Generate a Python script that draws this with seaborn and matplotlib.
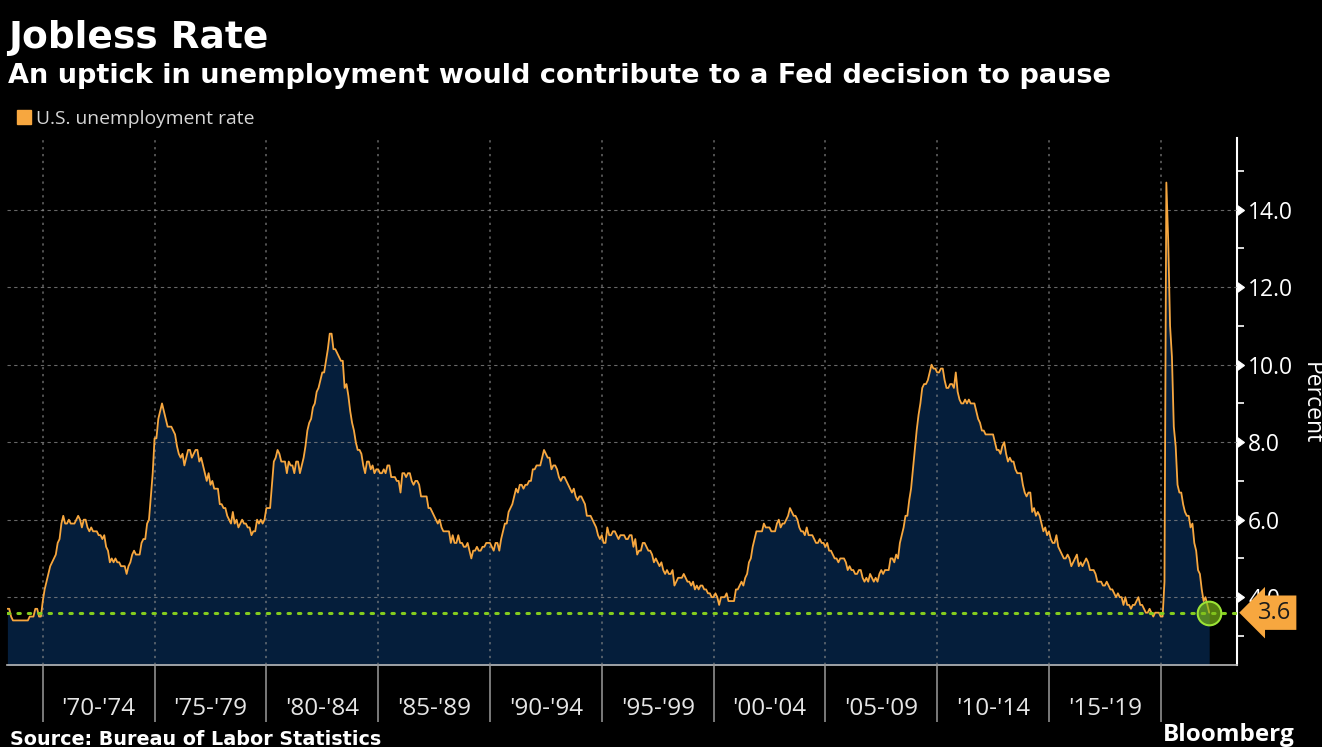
import numpy as np
import pandas as pd
import matplotlib
matplotlib.use("Agg")
import matplotlib.pyplot as plt
import matplotlib.markers as mmarkers
import matplotlib.transforms as mtransforms
from matplotlib.patches import Patch
import seaborn as sns

# U.S. unemployment rate, monthly, seasonally adjusted (BLS), Jun 1968 - Mar 2022
rate_1968_69 = [3.7, 3.7, 3.5, 3.4, 3.4, 3.4, 3.4,
                3.4, 3.4, 3.4, 3.4, 3.4, 3.5, 3.5, 3.5, 3.7, 3.7, 3.5, 3.5]
rate_1970s = [3.9, 4.2, 4.4, 4.6, 4.8, 4.9, 5.0, 5.1, 5.4, 5.5, 5.9, 6.1,
              5.9, 5.9, 6.0, 5.9, 5.9, 5.9, 6.0, 6.1, 6.0, 5.8, 6.0, 6.0,
              5.8, 5.7, 5.8, 5.7, 5.7, 5.7, 5.6, 5.6, 5.5, 5.6, 5.3, 5.2,
              4.9, 5.0, 4.9, 5.0, 4.9, 4.9, 4.8, 4.8, 4.8, 4.6, 4.8, 4.9,
              5.1, 5.2, 5.1, 5.1, 5.1, 5.4, 5.5, 5.5, 5.9, 6.0, 6.6, 7.2,
              8.1, 8.1, 8.6, 8.8, 9.0, 8.8, 8.6, 8.4, 8.4, 8.4, 8.3, 8.2,
              7.9, 7.7, 7.6, 7.7, 7.4, 7.6, 7.8, 7.8, 7.6, 7.7, 7.8, 7.8,
              7.5, 7.6, 7.4, 7.2, 7.0, 7.2, 6.9, 7.0, 6.8, 6.8, 6.8, 6.4,
              6.4, 6.3, 6.3, 6.1, 6.0, 5.9, 6.2, 5.9, 6.0, 5.8, 5.9, 6.0,
              5.9, 5.9, 5.8, 5.8, 5.6, 5.7, 5.7, 6.0, 5.9, 6.0, 5.9, 6.0]
rate_1980s = [6.3, 6.3, 6.3, 6.9, 7.5, 7.6, 7.8, 7.7, 7.5, 7.5, 7.5, 7.2,
              7.5, 7.4, 7.4, 7.2, 7.5, 7.5, 7.2, 7.4, 7.6, 7.9, 8.3, 8.5,
              8.6, 8.9, 9.0, 9.3, 9.4, 9.6, 9.8, 9.8, 10.1, 10.4, 10.8, 10.8,
              10.4, 10.4, 10.3, 10.2, 10.1, 10.1, 9.4, 9.5, 9.2, 8.8, 8.5, 8.3,
              8.0, 7.8, 7.8, 7.7, 7.4, 7.2, 7.5, 7.5, 7.3, 7.4, 7.2, 7.3,
              7.3, 7.2, 7.2, 7.3, 7.2, 7.4, 7.4, 7.1, 7.1, 7.1, 7.0, 7.0,
              6.7, 7.2, 7.2, 7.1, 7.2, 7.2, 7.0, 6.9, 7.0, 7.0, 6.9, 6.6,
              6.6, 6.6, 6.6, 6.3, 6.3, 6.2, 6.1, 6.0, 5.9, 6.0, 5.8, 5.7,
              5.7, 5.7, 5.7, 5.4, 5.6, 5.4, 5.4, 5.6, 5.4, 5.4, 5.3, 5.3,
              5.4, 5.2, 5.0, 5.2, 5.2, 5.3, 5.2, 5.2, 5.3, 5.3, 5.4, 5.4]
rate_1990s = [5.4, 5.3, 5.2, 5.4, 5.4, 5.2, 5.5, 5.7, 5.9, 5.9, 6.2, 6.3,
              6.4, 6.6, 6.8, 6.7, 6.9, 6.9, 6.8, 6.9, 6.9, 7.0, 7.0, 7.3,
              7.3, 7.4, 7.4, 7.4, 7.6, 7.8, 7.7, 7.6, 7.6, 7.3, 7.4, 7.4,
              7.3, 7.1, 7.0, 7.1, 7.1, 7.0, 6.9, 6.8, 6.7, 6.8, 6.6, 6.5,
              6.6, 6.6, 6.5, 6.4, 6.1, 6.1, 6.1, 6.0, 5.9, 5.8, 5.6, 5.5,
              5.6, 5.4, 5.4, 5.8, 5.6, 5.6, 5.7, 5.7, 5.6, 5.5, 5.6, 5.6,
              5.6, 5.5, 5.5, 5.6, 5.6, 5.3, 5.5, 5.1, 5.2, 5.2, 5.4, 5.4,
              5.3, 5.2, 5.2, 5.1, 4.9, 5.0, 4.9, 4.8, 4.9, 4.7, 4.6, 4.7,
              4.6, 4.6, 4.7, 4.3, 4.4, 4.5, 4.5, 4.5, 4.6, 4.5, 4.4, 4.4,
              4.3, 4.4, 4.2, 4.3, 4.2, 4.3, 4.3, 4.2, 4.2, 4.1, 4.1, 4.0]
rate_2000s = [4.0, 4.1, 4.0, 3.8, 4.0, 4.0, 4.0, 4.1, 3.9, 3.9, 3.9, 3.9,
              4.2, 4.2, 4.3, 4.4, 4.3, 4.5, 4.6, 4.9, 5.0, 5.3, 5.5, 5.7,
              5.7, 5.7, 5.7, 5.9, 5.8, 5.8, 5.8, 5.7, 5.7, 5.7, 5.9, 6.0,
              5.8, 5.9, 5.9, 6.0, 6.1, 6.3, 6.2, 6.1, 6.1, 6.0, 5.8, 5.7,
              5.7, 5.6, 5.8, 5.6, 5.6, 5.6, 5.5, 5.4, 5.4, 5.5, 5.4, 5.4,
              5.3, 5.4, 5.2, 5.2, 5.1, 5.0, 5.0, 4.9, 5.0, 5.0, 5.0, 4.9,
              4.7, 4.8, 4.7, 4.7, 4.6, 4.6, 4.7, 4.7, 4.5, 4.4, 4.5, 4.4,
              4.6, 4.5, 4.4, 4.5, 4.4, 4.6, 4.7, 4.6, 4.7, 4.7, 4.7, 5.0,
              5.0, 4.9, 5.1, 5.0, 5.4, 5.6, 5.8, 6.1, 6.1, 6.5, 6.8, 7.3,
              7.8, 8.3, 8.7, 9.0, 9.4, 9.5, 9.5, 9.6, 9.8, 10.0, 9.9, 9.9]
rate_2010s = [9.8, 9.8, 9.9, 9.9, 9.6, 9.4, 9.4, 9.5, 9.5, 9.4, 9.8, 9.3,
              9.1, 9.0, 9.0, 9.1, 9.0, 9.1, 9.0, 9.0, 9.0, 8.8, 8.6, 8.5,
              8.3, 8.3, 8.2, 8.2, 8.2, 8.2, 8.2, 8.0, 7.8, 7.8, 7.7, 7.9,
              8.0, 7.7, 7.5, 7.6, 7.5, 7.5, 7.3, 7.2, 7.2, 7.2, 6.9, 6.7,
              6.6, 6.7, 6.7, 6.2, 6.3, 6.1, 6.2, 6.1, 5.9, 5.7, 5.8, 5.6,
              5.7, 5.5, 5.4, 5.4, 5.6, 5.3, 5.2, 5.1, 5.0, 5.0, 5.1, 5.0,
              4.8, 4.9, 5.0, 5.1, 4.8, 4.9, 4.8, 4.9, 5.0, 4.9, 4.7, 4.7,
              4.7, 4.6, 4.4, 4.4, 4.4, 4.3, 4.3, 4.4, 4.3, 4.2, 4.2, 4.1,
              4.0, 4.1, 4.0, 4.0, 3.8, 4.0, 3.8, 3.8, 3.7, 3.8, 3.8, 3.9,
              4.0, 3.8, 3.8, 3.7, 3.6, 3.6, 3.7, 3.6, 3.5, 3.6, 3.6, 3.6]
rate_2020s = [3.5, 3.5, 4.4, 14.7, 13.2, 11.0, 10.2, 8.4, 7.9, 6.9, 6.7, 6.7,
              6.4, 6.2, 6.1, 6.1, 5.8, 5.9, 5.4, 5.2, 4.7, 4.6, 4.2, 3.9,
              4.0, 3.8, 3.6]

period_labels = ["'70-'74", "'75-'79", "'80-'84", "'85-'89", "'90-'94",
                 "'95-'99", "'00-'04", "'05-'09", "'10-'14", "'15-'19"]
period_starts = [1970, 1975, 1980, 1985, 1990, 1995, 2000, 2005, 2010, 2015, 2020]

rate = rate_1968_69 + rate_1970s + rate_1980s + rate_1990s + rate_2000s + rate_2010s + rate_2020s
dates = pd.date_range("1968-06-01", periods=len(rate), freq="MS")
df = pd.DataFrame({"date": dates, "rate": rate})
df["year"] = df["date"].dt.year + (df["date"].dt.month - 1) / 12
last = df.iloc[-1]

orange = "#F7A73F"
navy = "#051E3B"
green = "#84CC1E"

sns.set_style("dark", {"axes.facecolor": "black", "figure.facecolor": "black"})
plt.rcParams["font.family"] = ["Open Sans", "DejaVu Sans"]

fig = plt.figure(figsize=(13.22, 7.47), dpi=100, facecolor="black")
ax = fig.add_axes([7 / 1322, 1 - 665 / 747, (1237 - 7) / 1322, (665 - 138) / 747])
ax.set_facecolor("black")

ax.fill_between(df["year"], df["rate"], 0, color=navy, lw=0, zorder=1)
sns.lineplot(data=df, x="year", y="rate", ax=ax, color=orange, lw=1.3, zorder=3)

# latest value marker
ax.axhline(last["rate"], color=green, ls=(0, (0.8, 2.6)), lw=2.2,
           dash_capstyle="round", zorder=4)
ax.scatter([last["year"]], [last["rate"]], s=290, facecolor=(0.50, 0.75, 0.10, 0.65),
           edgecolor="#9BE335", lw=1.5, zorder=5)

ax.set_xlim(1968.40, 2023.41)
ax.set_ylim(2.25, 15.85)

# axes / spines
for s in ["left", "top"]:
    ax.spines[s].set_visible(False)
ax.spines["right"].set_color("white")
ax.spines["right"].set_linewidth(1.5)
ax.spines["bottom"].set_color("#b8b8b8")
ax.spines["bottom"].set_linewidth(1.2)

ax.yaxis.tick_right()
ax.set_yticks(np.arange(4, 15, 2))
ax.set_yticks(np.arange(3, 16, 2), minor=True)
ax.set_yticklabels([f"{v:.1f}" for v in np.arange(4, 15, 2)])
ax.tick_params(axis="y", which="major", colors="white", labelsize=16.5, pad=8,
               length=0, left=False, right=True)
ax.tick_params(axis="y", which="minor", colors="white", length=5, width=1.2,
               direction="out", left=False, right=True)
for t in ax.yaxis.get_major_ticks():
    t.tick2line.set_marker(mmarkers.CARETRIGHTBASE)
    t.tick2line.set_markersize(7)
    t.tick2line.set_color("white")

ax.set_xticks(period_starts)
ax.set_xticks([s + 2.5 for s in period_starts[:-1]], minor=True)
ax.set_xticklabels([])
ax.set_xticklabels(period_labels, minor=True)
ax.tick_params(axis="x", which="major", length=41, width=1.1, color="#9a9a9a",
               direction="out", bottom=True)
ax.tick_params(axis="x", which="minor", length=0, pad=23, labelsize=17.5,
               labelcolor="#e6e6e6", bottom=True)

ax.set_xlabel("")
ax.set_ylabel("")

ax.set_axisbelow(False)
ax.grid(False)
ax.yaxis.grid(True, which="major", color="#8a8a8a", ls=(0, (3, 3)), lw=0.8, alpha=0.75)
ax.xaxis.grid(True, which="major", color="#8a8a8a", ls=(0, (1.5, 3)), lw=1.1, alpha=0.75)
for gl in ax.get_xgridlines() + ax.get_ygridlines():
    gl.set_zorder(2)

# value box on the axis
trans = mtransforms.blended_transform_factory(ax.transAxes, ax.transData)
ax.text(1.017, last["rate"], f"{last['rate']:.1f}", transform=trans, ha="left",
        va="center", fontsize=17, color="#1b1b1b", zorder=6, clip_on=False,
        bbox=dict(boxstyle="larrow,pad=0.22", fc=orange, ec="none"))

fig.text(1311 / 1322, 1 - 403 / 747, "Percent", rotation=270, ha="center",
         va="center", fontsize=16.5, color="white")

# titles
fig.text(8 / 1322, 1 - 48 / 747, "Jobless Rate", fontsize=27, weight="bold",
         color="white", family="DejaVu Sans", va="baseline")
fig.text(8 / 1322, 1 - 83 / 747,
         "An uptick in unemployment would contribute to a Fed decision to pause",
         fontsize=19.5, weight="bold", color="white", family="DejaVu Sans", va="baseline")
fig.legend(handles=[Patch(color=orange)], labels=["U.S. unemployment rate"],
           loc="center left", bbox_to_anchor=(17 / 1322, 1 - 119 / 747), frameon=False,
           handlelength=0.7, handleheight=0.7, handletextpad=0.3, borderaxespad=0,
           borderpad=0, fontsize=13.9, labelcolor="#d6d6d6")

fig.text(10 / 1322, 2 / 747, "Source: Bureau of Labor Statistics", fontsize=13.8,
         weight="bold", color="white", family="DejaVu Sans", va="baseline")
fig.text(1295 / 1322, 6 / 747, "Bloomberg", fontsize=17.5, weight="bold",
         color="white", ha="right", va="baseline")

fig.savefig("out.png", dpi=100, facecolor="black")
